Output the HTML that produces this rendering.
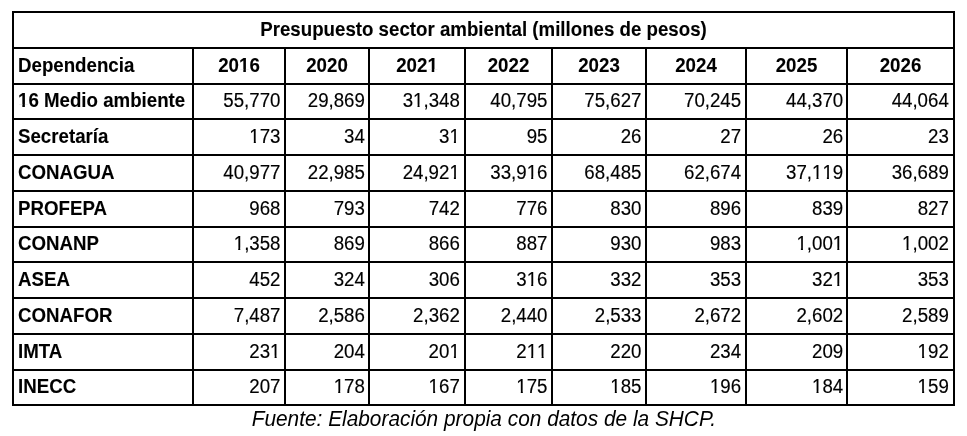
<!DOCTYPE html>
<html><head><meta charset="utf-8"><style>
html,body{margin:0;padding:0;background:#fff;width:967px;height:436px;overflow:hidden;position:relative}
.l{position:absolute;background:#000}
#w{position:absolute;left:0;top:0;width:967px;height:436px;will-change:transform}
.t{position:absolute;font-family:"Liberation Sans",sans-serif;font-size:18.7px;line-height:22px;height:22px;white-space:nowrap;color:#000;transform:scaleY(1.07);transform-origin:0 17px}
.n{-webkit-text-stroke:0.15px #000}
.b{font-weight:bold;-webkit-text-stroke:0.1px #000}
.o{display:inline-block;clip-path:polygon(-3px -6px,calc(0.556em + 3px) -6px,calc(0.556em + 3px) 14.9px,0.35em 14.9px,0.35em 26px,0.24em 26px,0.24em 14.9px,-3px 14.9px)}
.b .o{clip-path:polygon(-3px -6px,calc(0.556em + 3px) -6px,calc(0.556em + 3px) 14.5px,0.368em 14.5px,0.368em 26px,0.232em 26px,0.232em 14.5px,-3px 14.5px)}
.i{font-style:italic;font-size:20.85px;line-height:24px;height:24px;transform:scaleY(1.05);transform-origin:0 19px}
</style></head><body><div id="w">
<div class="l" style="left:12px;top:11px;width:943px;height:2px"></div>
<div class="l" style="left:12px;top:47px;width:943px;height:2px"></div>
<div class="l" style="left:12px;top:83px;width:943px;height:2px"></div>
<div class="l" style="left:12px;top:118px;width:943px;height:2px"></div>
<div class="l" style="left:12px;top:154px;width:943px;height:2px"></div>
<div class="l" style="left:12px;top:190px;width:943px;height:2px"></div>
<div class="l" style="left:12px;top:226px;width:943px;height:2px"></div>
<div class="l" style="left:12px;top:261px;width:943px;height:2px"></div>
<div class="l" style="left:12px;top:297px;width:943px;height:2px"></div>
<div class="l" style="left:12px;top:333px;width:943px;height:2px"></div>
<div class="l" style="left:12px;top:369px;width:943px;height:2px"></div>
<div class="l" style="left:12px;top:404px;width:943px;height:2px"></div>
<div class="l" style="left:12px;top:11px;width:2px;height:395px"></div>
<div class="l" style="left:953px;top:11px;width:2px;height:395px"></div>
<div class="l" style="left:192px;top:47px;width:2px;height:359px"></div>
<div class="l" style="left:284px;top:47px;width:2px;height:359px"></div>
<div class="l" style="left:368px;top:47px;width:2px;height:359px"></div>
<div class="l" style="left:464px;top:47px;width:2px;height:359px"></div>
<div class="l" style="left:551px;top:47px;width:2px;height:359px"></div>
<div class="l" style="left:645px;top:47px;width:2px;height:359px"></div>
<div class="l" style="left:745px;top:47px;width:2px;height:359px"></div>
<div class="l" style="left:846px;top:47px;width:2px;height:359px"></div>
<div class="t b" style="left:14px;width:939px;text-align:center;top:19px">Presupuesto sector ambiental (millones de pesos)</div>
<div class="t b" style="left:18.0px;top:55px">Dependencia</div>
<div class="t b" style="left:194px;width:90px;text-align:center;top:55px">20<span class="o">1</span>6</div>
<div class="t b" style="left:286px;width:82px;text-align:center;top:55px">2020</div>
<div class="t b" style="left:370px;width:94px;text-align:center;top:55px">202<span class="o">1</span></div>
<div class="t b" style="left:466px;width:85px;text-align:center;top:55px">2022</div>
<div class="t b" style="left:553px;width:92px;text-align:center;top:55px">2023</div>
<div class="t b" style="left:647px;width:98px;text-align:center;top:55px">2024</div>
<div class="t b" style="left:747px;width:99px;text-align:center;top:55px">2025</div>
<div class="t b" style="left:848px;width:105px;text-align:center;top:55px">2026</div>
<div class="t b" style="left:18.0px;top:90px"><span class="o">1</span>6 Medio ambiente</div>
<div class="t n" style="right:686.5px;top:90px">55,770</div>
<div class="t n" style="right:602.1px;top:90px">29,869</div>
<div class="t n" style="right:507.2px;top:90px">3<span class="o">1</span>,348</div>
<div class="t n" style="right:419.5px;top:90px">40,795</div>
<div class="t n" style="right:325.5px;top:90px">75,627</div>
<div class="t n" style="right:225.85px;top:90px">70,245</div>
<div class="t n" style="right:123.8px;top:90px">44,370</div>
<div class="t n" style="right:18.2px;top:90px">44,064</div>
<div class="t b" style="left:18.0px;top:126px">Secretaría</div>
<div class="t n" style="right:686.5px;top:126px"><span class="o">1</span>73</div>
<div class="t n" style="right:602.1px;top:126px">34</div>
<div class="t n" style="right:507.2px;top:126px">3<span class="o">1</span></div>
<div class="t n" style="right:419.5px;top:126px">95</div>
<div class="t n" style="right:325.5px;top:126px">26</div>
<div class="t n" style="right:225.85px;top:126px">27</div>
<div class="t n" style="right:123.8px;top:126px">26</div>
<div class="t n" style="right:18.2px;top:126px">23</div>
<div class="t b" style="left:18.0px;top:162px">CONAGUA</div>
<div class="t n" style="right:686.5px;top:162px">40,977</div>
<div class="t n" style="right:602.1px;top:162px">22,985</div>
<div class="t n" style="right:507.2px;top:162px">24,92<span class="o">1</span></div>
<div class="t n" style="right:419.5px;top:162px">33,9<span class="o">1</span>6</div>
<div class="t n" style="right:325.5px;top:162px">68,485</div>
<div class="t n" style="right:225.85px;top:162px">62,674</div>
<div class="t n" style="right:123.8px;top:162px">37,<span class="o">1</span><span class="o">1</span>9</div>
<div class="t n" style="right:18.2px;top:162px">36,689</div>
<div class="t b" style="left:18.0px;top:198px">PROFEPA</div>
<div class="t n" style="right:686.5px;top:198px">968</div>
<div class="t n" style="right:602.1px;top:198px">793</div>
<div class="t n" style="right:507.2px;top:198px">742</div>
<div class="t n" style="right:419.5px;top:198px">776</div>
<div class="t n" style="right:325.5px;top:198px">830</div>
<div class="t n" style="right:225.85px;top:198px">896</div>
<div class="t n" style="right:123.8px;top:198px">839</div>
<div class="t n" style="right:18.2px;top:198px">827</div>
<div class="t b" style="left:18.0px;top:233px">CONANP</div>
<div class="t n" style="right:686.5px;top:233px"><span class="o">1</span>,358</div>
<div class="t n" style="right:602.1px;top:233px">869</div>
<div class="t n" style="right:507.2px;top:233px">866</div>
<div class="t n" style="right:419.5px;top:233px">887</div>
<div class="t n" style="right:325.5px;top:233px">930</div>
<div class="t n" style="right:225.85px;top:233px">983</div>
<div class="t n" style="right:123.8px;top:233px"><span class="o">1</span>,00<span class="o">1</span></div>
<div class="t n" style="right:18.2px;top:233px"><span class="o">1</span>,002</div>
<div class="t b" style="left:18.0px;top:269px">ASEA</div>
<div class="t n" style="right:686.5px;top:269px">452</div>
<div class="t n" style="right:602.1px;top:269px">324</div>
<div class="t n" style="right:507.2px;top:269px">306</div>
<div class="t n" style="right:419.5px;top:269px">3<span class="o">1</span>6</div>
<div class="t n" style="right:325.5px;top:269px">332</div>
<div class="t n" style="right:225.85px;top:269px">353</div>
<div class="t n" style="right:123.8px;top:269px">32<span class="o">1</span></div>
<div class="t n" style="right:18.2px;top:269px">353</div>
<div class="t b" style="left:18.0px;top:305px">CONAFOR</div>
<div class="t n" style="right:686.5px;top:305px">7,487</div>
<div class="t n" style="right:602.1px;top:305px">2,586</div>
<div class="t n" style="right:507.2px;top:305px">2,362</div>
<div class="t n" style="right:419.5px;top:305px">2,440</div>
<div class="t n" style="right:325.5px;top:305px">2,533</div>
<div class="t n" style="right:225.85px;top:305px">2,672</div>
<div class="t n" style="right:123.8px;top:305px">2,602</div>
<div class="t n" style="right:18.2px;top:305px">2,589</div>
<div class="t b" style="left:18.0px;top:341px">IMTA</div>
<div class="t n" style="right:686.5px;top:341px">23<span class="o">1</span></div>
<div class="t n" style="right:602.1px;top:341px">204</div>
<div class="t n" style="right:507.2px;top:341px">20<span class="o">1</span></div>
<div class="t n" style="right:419.5px;top:341px">2<span class="o">1</span><span class="o">1</span></div>
<div class="t n" style="right:325.5px;top:341px">220</div>
<div class="t n" style="right:225.85px;top:341px">234</div>
<div class="t n" style="right:123.8px;top:341px">209</div>
<div class="t n" style="right:18.2px;top:341px"><span class="o">1</span>92</div>
<div class="t b" style="left:18.0px;top:376px">INECC</div>
<div class="t n" style="right:686.5px;top:376px">207</div>
<div class="t n" style="right:602.1px;top:376px"><span class="o">1</span>78</div>
<div class="t n" style="right:507.2px;top:376px"><span class="o">1</span>67</div>
<div class="t n" style="right:419.5px;top:376px"><span class="o">1</span>75</div>
<div class="t n" style="right:325.5px;top:376px"><span class="o">1</span>85</div>
<div class="t n" style="right:225.85px;top:376px"><span class="o">1</span>96</div>
<div class="t n" style="right:123.8px;top:376px"><span class="o">1</span>84</div>
<div class="t n" style="right:18.2px;top:376px"><span class="o">1</span>59</div>
<div class="t i" style="left:0.3px;width:967px;text-align:center;top:407px">Fuente: Elaboración propia con datos de la SHCP.</div>
</div></body></html>
